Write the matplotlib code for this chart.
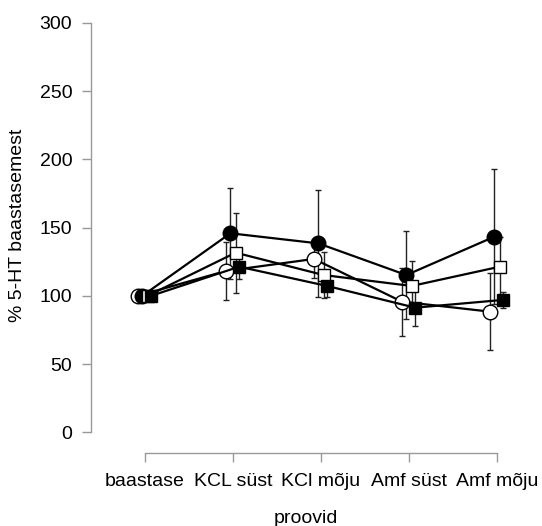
import numpy as np
import matplotlib
matplotlib.use("Agg")
from matplotlib import pyplot as plt

plt.rcParams['font.family'] = ['Liberation Sans', 'DejaVu Sans']

categories = ['baastase', 'KCL süst', 'KCl mõju', 'Amf süst', 'Amf mõju']

# four series: open circle, filled circle, open square, filled square
open_circle = [100, 118.2, 127.0, 95.7, 88.4]
open_circle_err = [0, 21.4, 13.7, 25.0, 28.0]

filled_circle = [100, 145.8, 138.4, 115.2, 143.3]
filled_circle_err = [0, 33.4, 39.0, 32.5, 49.6]

open_square = [100, 131.6, 115.2, 107.2, 121.3]
open_square_err = [0, 29.3, 17.0, 18.3, 22.0]

filled_square = [100, 121.3, 107.2, 91.3, 97.0]
filled_square_err = [0, 8.8, 8.3, 13.4, 6.0]

fig = plt.figure(figsize=(5.42, 5.26), dpi=100)
ax = fig.add_axes([91/542, 1 - 453/526, (520 - 91)/542, (453 - 15)/526])

x = np.arange(len(categories))

series = [
    (open_circle, open_circle_err, -0.08, 'o', 'white', 10.5),
    (filled_circle, filled_circle_err, -0.03, 'o', 'black', 10.5),
    (open_square, open_square_err, 0.03, 's', 'white', 8.5),
    (filled_square, filled_square_err, 0.07, 's', 'black', 8.5),
]

for vals, errs, off, mk, fc, ms in series:
    ax.errorbar(x + off, vals, yerr=errs, fmt='none', ecolor='#222222',
                elinewidth=1.0, capsize=2.5, capthick=1.0, zorder=2)
    ax.plot(x + off, vals, color='black', lw=1.6, marker=mk, markersize=ms,
            markerfacecolor=fc, markeredgecolor='black', markeredgewidth=1.0, zorder=3)

ax.set_xlim((91 - 145) / 88, (520 - 145) / 88)
ax.set_ylim((432.3 - 453) / 1.365, (432.3 - 15) / 1.365)

for s in ['top', 'right']:
    ax.spines[s].set_visible(False)
ax.spines['left'].set_bounds(0, 300)
ax.spines['bottom'].set_bounds(0, 4)
for s in ['left', 'bottom']:
    ax.spines[s].set_color('#999999')
    ax.spines[s].set_linewidth(1.0)

ax.set_yticks([0, 50, 100, 150, 200, 250, 300])
ax.set_xticks(x)
ax.set_xticklabels(categories)
ax.tick_params(axis='both', colors='#999999', labelcolor='black', labelsize=14,
               length=6.5, width=1.0)
ax.tick_params(axis='y', pad=7)
ax.tick_params(axis='x', pad=8)

ax.set_ylabel('% 5-HT baastasemest', fontsize=14)
ax.yaxis.set_label_coords(-0.1515, 0.52)
ax.set_xlabel('proovid', fontsize=14, labelpad=14)

fig.savefig('out.png', dpi=100)
